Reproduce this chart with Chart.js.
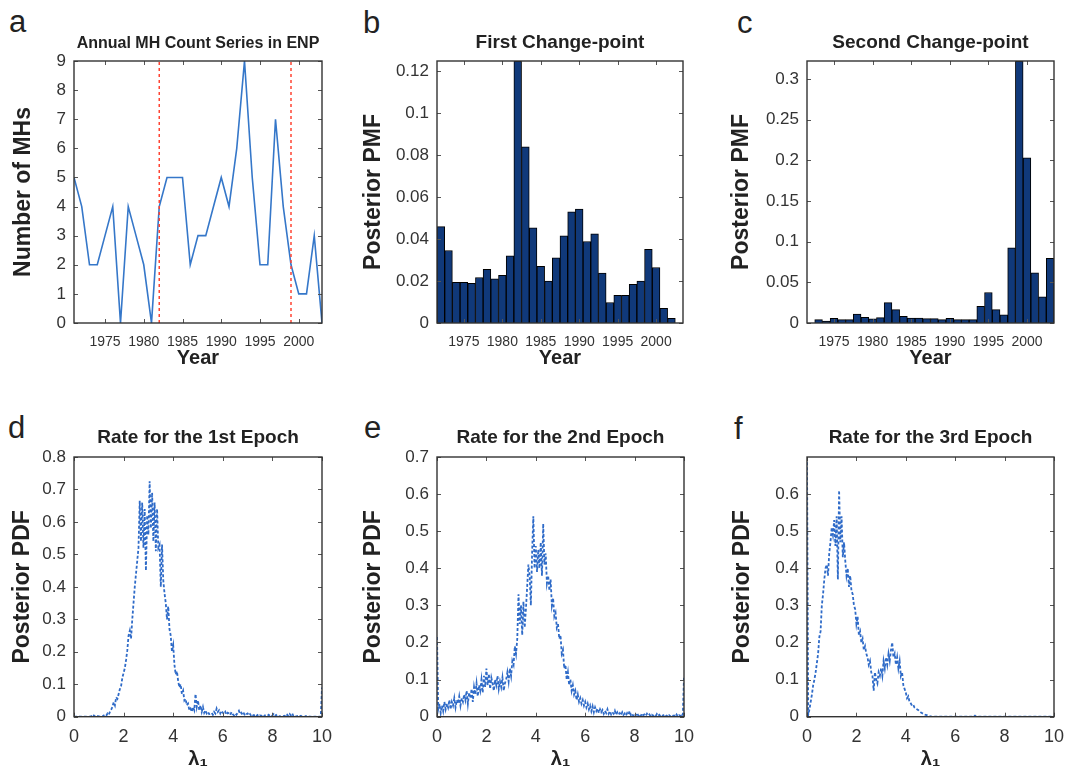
<!DOCTYPE html>
<html>
<head>
<meta charset="utf-8">
<script src="https://cdn.jsdelivr.net/npm/chart.js@4.4.1/dist/chart.umd.min.js"></script>
<style>
  body { margin: 0; width: 1065px; height: 780px; overflow: hidden; position: relative; background: #fff;
         font-family: 'Liberation Sans', Arial, sans-serif; }
  canvas { position: absolute; }
  .tag { position: absolute; font-size: 31px; line-height: 30px; color: #222; }
</style>
</head>
<body>
<div class="tag" style="left:9px;top:7px">a</div>
<div class="tag" style="left:363px;top:8px">b</div>
<div class="tag" style="left:737px;top:8px">c</div>
<div class="tag" style="left:8px;top:413px">d</div>
<div class="tag" style="left:364px;top:413px">e</div>
<div class="tag" style="left:734px;top:414px">f</div>

<canvas id="panelA" width="336" height="390" style="left:0;top:0"></canvas>
<canvas id="panelB" width="357" height="390" style="left:340px;top:0"></canvas>
<canvas id="panelC" width="365" height="390" style="left:700px;top:0"></canvas>
<canvas id="panelD" width="344" height="384" style="left:0;top:396px"></canvas>
<canvas id="panelE" width="366" height="384" style="left:340px;top:396px"></canvas>
<canvas id="panelF" width="376" height="384" style="left:700px;top:396px"></canvas>

<script>
// annual MH counts (panel a)
const years = [1971, 1972, 1973, 1974, 1975, 1976, 1977, 1978, 1979, 1980, 1981, 1982, 1983, 1984, 1985, 1986, 1987,
               1988, 1989, 1990, 1991, 1992, 1993, 1994, 1995, 1996, 1997, 1998, 1999, 2000, 2001, 2002, 2003];
const mhCounts = [5, 4, 2, 2, 3, 4, 0, 4, 3, 2, 0, 4, 5, 5, 5, 2, 3, 3, 4, 5, 4, 6, 9, 5, 2, 2, 7, 4, 2, 1, 1, 3, 0];
const changePoints = [1982, 1999];

// posterior PMF of the first change-point (panel b)
const firstCpYears = [1972, 1973, 1974, 1975, 1976, 1977, 1978, 1979, 1980, 1981, 1982, 1983, 1984, 1985, 1986, 1987,
                      1988, 1989, 1990, 1991, 1992, 1993, 1994, 1995, 1996, 1997, 1998, 1999, 2000, 2001, 2002];
const firstCpPmf = [0.046, 0.0346, 0.0194, 0.0194, 0.0189, 0.0217, 0.0256, 0.0211, 0.0227, 0.0321,
                    0.125, 0.0841, 0.0454, 0.027, 0.020, 0.0311, 0.0416, 0.053, 0.0544, 0.0389,
                    0.0425, 0.0238, 0.0098, 0.0132, 0.0132, 0.0184, 0.020, 0.0352, 0.0265, 0.007, 0.0022];

// posterior PMF of the second change-point (panel c)
const secondCpYears = [1973, 1974, 1975, 1976, 1977, 1978, 1979, 1980, 1981, 1982, 1983, 1984, 1985, 1986, 1987, 1988,
                       1989, 1990, 1991, 1992, 1993, 1994, 1995, 1996, 1997, 1998, 1999, 2000, 2001, 2002, 2003];
const secondCpPmf = [0.0041, 0.0025, 0.0058, 0.0041, 0.0041, 0.011, 0.007, 0.005, 0.0066, 0.025,
                     0.0165, 0.0082, 0.0062, 0.0062, 0.0054, 0.0054, 0.0041, 0.0058, 0.0041, 0.0041,
                     0.0041, 0.0206, 0.0375, 0.0165, 0.0099, 0.0923, 0.322, 0.203, 0.0618, 0.0321, 0.0795];

// tick labels
const yearTicks = [1975, 1980, 1985, 1990, 1995, 2000];
const countTicks = [0, 1, 2, 3, 4, 5, 6, 7, 8, 9];
const firstPmfTicks = [0, 0.02, 0.04, 0.06, 0.08, 0.1, 0.12];
const secondPmfTicks = [0, 0.05, 0.1, 0.15, 0.2, 0.25, 0.3];
const pdfTicks1 = [0, 0.1, 0.2, 0.3, 0.4, 0.5, 0.6, 0.7, 0.8];
const pdfTicks2 = [0, 0.1, 0.2, 0.3, 0.4, 0.5, 0.6, 0.7];
const pdfTicks3 = [0, 0.1, 0.2, 0.3, 0.4, 0.5, 0.6];
const lambdaTicks = [0, 2, 4, 6, 8, 10];

// posterior PDFs of the epoch rates, sampled every 0.05 from 0 to 10 (one row per unit of lambda)
const lambdaStep = 0.05;
const pdfEpoch1 = [
  0, 0, 0, 0, 0, 0, 0, .001, 0, 0, 0, .001, 0, 0, .002, 0, .004, .001, 0, .002,
  .001, 0, .003, .001, .004, .006, .003, .010, .006, .015, .022, .030, .045, .035, .060, .055, .070, .085, .095, .120,
  .135, .150, .175, .205, .250, .265, .240, .300, .350, .400, .440, .480, .520, .665, .540, .660, .520, .640, .450, .620,
  .560, .725, .580, .690, .540, .660, .510, .640, .520, .530, .400, .530, .420, .380, .350, .300, .340, .270, .250, .200,
  .220, .160, .130, .140, .110, .090, .100, .070, .080, .050, .055, .035, .040, .020, .025, .015, .030, .020, .070, .030,
  .050, .020, .035, .015, .030, .012, .020, .010, .015, .008, .010, .012, .006, .015, .010, .025, .015, .020, .010, .018,
  .012, .008, .015, .006, .012, .010, .005, .014, .008, .004, .010, .006, .012, .018, .008, .012, .005, .010, .003, .008,
  .010, .004, .008, .002, .006, .003, .007, .002, .005, .001, .004, .002, .006, .001, .004, .002, .003, .006, .002, .001,
  .004, .008, .002, .005, .001, .003, 0, .002, .004, .001, .003, 0, .006, .002, .008, .003, .010, .002, .004, 0,
  .002, 0, .001, .003, 0, .001, 0, .002, 0, .001, 0, 0, .001, 0, 0, 0, .001, 0, 0, 0,
  .090
];
const pdfEpoch2 = [
  .215, .020, .035, .010, .030, .015, .040, .020, .035, .025, .045, .020, .040, .030, .050, .025, .045, .035, .055, .030,
  .050, .040, .060, .045, .070, .035, .065, .050, .075, .040, .080, .060, .090, .055, .085, .070, .100, .065, .110, .080,
  .130, .085, .115, .075, .105, .090, .070, .100, .085, .110, .075, .095, .080, .105, .070, .090, .100, .120, .095, .130,
  .110, .150, .140, .190, .170, .210, .330, .250, .300, .220, .310, .240, .290, .350, .410, .380, .300, .440, .540, .400,
  .460, .390, .450, .400, .470, .380, .520, .410, .440, .360, .380, .340, .370, .300, .320, .270, .280, .240, .250, .210,
  .220, .170, .180, .130, .140, .100, .120, .085, .100, .070, .085, .060, .070, .045, .060, .040, .050, .035, .045, .030,
  .040, .025, .035, .020, .030, .015, .028, .012, .025, .015, .022, .010, .020, .012, .018, .008, .016, .010, .020, .008,
  .015, .006, .012, .008, .016, .005, .012, .006, .010, .004, .012, .005, .009, .003, .010, .006, .015, .004, .008, .002,
  .008, .004, .010, .003, .007, .002, .009, .004, .006, .002, .008, .003, .006, .001, .005, .002, .004, .001, .007, .002,
  .005, .001, .004, .002, .006, .001, .003, 0, .004, .001, .005, .002, .003, 0, .006, .001, .004, .002, .003, .001,
  .107
];
const pdfEpoch3 = [
  .699, .005, .020, .040, .060, .085, .100, .120, .145, .170, .215, .230, .300, .330, .370, .400, .410, .380, .440, .470,
  .510, .490, .530, .460, .540, .370, .610, .470, .540, .430, .470, .420, .380, .400, .350, .380, .340, .330, .300, .290,
  .250, .270, .220, .230, .200, .210, .180, .190, .170, .160, .140, .150, .120, .110, .070, .120, .100, .090, .120, .110,
  .130, .110, .150, .130, .160, .140, .170, .150, .180, .200, .160, .170, .140, .160, .130, .150, .110, .120, .085, .075,
  .065, .050, .055, .040, .036, .030, .032, .025, .022, .020, .018, .015, .012, .010, .008, .006, .005, .004, .003, .002,
  .001, 0, .001, 0, 0, 0, 0, 0, 0, 0, 0, 0, 0, 0, 0, 0, 0, 0, 0, 0,
  0, 0, 0, 0, 0, 0, 0, 0, 0, 0, 0, 0, 0, 0, 0, 0, .003, 0, 0, 0,
  0, 0, 0, 0, 0, 0, 0, 0, 0, 0, 0, 0, 0, 0, 0, 0, 0, 0, 0, 0,
  0, 0, 0, 0, 0, 0, 0, 0, 0, 0, 0, 0, 0, 0, 0, 0, 0, 0, 0, 0,
  0, 0, 0, 0, 0, 0, 0, 0, 0, 0, 0, 0, 0, 0, 0, 0, 0, 0, 0, 0,
  0
];

const FONT = "'Liberation Sans', Arial, sans-serif";
Chart.defaults.font.family = FONT;
Chart.defaults.color = '#333';

const fmt = v => String(+Number(v).toFixed(4));

// matlab style box with inward tick marks
const boxPlugin = {
  id: 'matlabBox',
  afterDatasetsDraw(chart) {
    const { ctx, chartArea: a, scales: { x, y } } = chart;
    ctx.save();
    ctx.strokeStyle = '#555';
    ctx.lineWidth = 1;
    ctx.beginPath();
    x.ticks.forEach(t => {
      const px = Math.round(x.getPixelForValue(t.value)) + 0.5;
      ctx.moveTo(px, a.bottom); ctx.lineTo(px, a.bottom - 4);
      ctx.moveTo(px, a.top); ctx.lineTo(px, a.top + 4);
    });
    y.ticks.forEach(t => {
      const py = Math.round(y.getPixelForValue(t.value)) + 0.5;
      ctx.moveTo(a.left, py); ctx.lineTo(a.left + 4, py);
      ctx.moveTo(a.right, py); ctx.lineTo(a.right - 4, py);
    });
    ctx.stroke();
    ctx.strokeStyle = '#333';
    ctx.lineWidth = 1.4;
    ctx.strokeRect(a.left, a.top, a.right - a.left, a.bottom - a.top);
    ctx.restore();
  }
};

function panel(id, o) {
  return new Chart(document.getElementById(id), {
    type: o.type,
    data: { datasets: o.datasets },
    options: {
      responsive: false,
      animation: false,
      events: [],
      layout: { padding: { left: 0, top: 0, right: o.padRight, bottom: 0 } },
      plugins: {
        legend: { display: false },
        tooltip: { enabled: false },
        title: {
          display: true, text: o.title, fullSize: false, color: '#222',
          font: { size: o.titleSize, weight: 'bold' },
          padding: { top: o.titleTop, bottom: o.titleBottom }
        }
      },
      scales: {
        x: {
          type: 'linear', min: o.xMin, max: o.xMax, offset: false,
          grid: { display: false, drawTicks: false }, border: { display: false },
          afterBuildTicks: s => { s.ticks = o.xTicks.map(v => ({ value: v })); },
          afterFit: s => { s.height = o.xH; },
          ticks: { autoSkip: false, maxRotation: 0, minRotation: 0, padding: o.xTickPad, color: '#333',
                   font: o.xTickFont, callback: fmt },
          title: { display: true, text: o.xTitle, color: '#222', font: { size: 20, weight: 'bold' },
                   padding: { top: 0, bottom: o.xTitlePad } }
        },
        y: {
          type: 'linear', min: 0, max: o.yMax,
          grid: { display: false, drawTicks: false }, border: { display: false },
          afterBuildTicks: s => { s.ticks = o.yTicks.map(v => ({ value: v })); },
          afterFit: s => { s.width = o.yW; },
          ticks: { autoSkip: false, padding: 8, color: '#333', font: { size: 17 }, callback: fmt },
          title: { display: true, text: o.yTitle, color: '#222', font: { size: 23, weight: 'bold' },
                   padding: { top: o.yTitlePad, bottom: 0 } }
        }
      }
    },
    plugins: [boxPlugin]
  });
}

const yearFont = { size: 14 };
const lambdaFont = { size: 18 };
const barStyle = { backgroundColor: '#10397a', borderColor: '#000', borderWidth: 1,
                   barPercentage: 1, categoryPercentage: 1 };
const pdfStyle = { borderColor: '#2f6bc8', borderWidth: 1.8, borderDash: [3, 2], pointRadius: 0, tension: 0 };

// a
panel('panelA', {
  type: 'line', padRight: 14,
  title: 'Annual MH Count Series in ENP', titleSize: 16, titleTop: 34, titleBottom: 7.8,
  xMin: 1971, xMax: 2003, xTicks: yearTicks, xH: 67, xTickFont: yearFont, xTickPad: 11, xTitle: 'Year', xTitlePad: 20,
  yMax: 9, yTicks: countTicks, yW: 74, yTitle: 'Number of MHs', yTitlePad: 9.7,
  datasets: [
    { data: years.map((yr, i) => ({ x: yr, y: mhCounts[i] })), borderColor: '#3577c9', borderWidth: 1.6,
      pointRadius: 0, tension: 0, order: 1 },
    ...changePoints.map(cp => ({ data: [{ x: cp, y: 0 }, { x: cp, y: 9 }], borderColor: '#ff4433',
      borderWidth: 1.5, borderDash: [3, 3], pointRadius: 0, order: 0 }))
  ]
});

// b
panel('panelB', {
  type: 'bar', padRight: 14,
  title: 'First Change-point', titleSize: 19, titleTop: 31, titleBottom: 7.2,
  xMin: 1971.5, xMax: 2003.5, xTicks: yearTicks, xH: 67, xTickFont: yearFont, xTickPad: 11, xTitle: 'Year', xTitlePad: 20,
  yMax: 0.125, yTicks: firstPmfTicks, yW: 97, yTitle: 'Posterior PMF', yTitlePad: 19.7,
  datasets: [Object.assign({ data: firstCpYears.map((yr, i) => ({ x: yr, y: firstCpPmf[i] })) }, barStyle)]
});

// c
panel('panelC', {
  type: 'bar', padRight: 11,
  title: 'Second Change-point', titleSize: 19, titleTop: 31, titleBottom: 7.2,
  xMin: 1971.5, xMax: 2003.5, xTicks: yearTicks, xH: 67, xTickFont: yearFont, xTickPad: 11, xTitle: 'Year', xTitlePad: 20,
  yMax: 0.322, yTicks: secondPmfTicks, yW: 107, yTitle: 'Posterior PMF', yTitlePad: 28,
  datasets: [Object.assign({ data: secondCpYears.map((yr, i) => ({ x: yr, y: secondCpPmf[i] })) }, barStyle)]
});

const pdfPoints = vals => vals.map((v, i) => ({ x: i * lambdaStep, y: v }));

// d
panel('panelD', {
  type: 'line', padRight: 22,
  title: 'Rate for the 1st Epoch', titleSize: 19, titleTop: 30, titleBottom: 8.2,
  xMin: 0, xMax: 10, xTicks: lambdaTicks, xH: 63.3, xTickFont: lambdaFont, xTickPad: 10, xTitle: 'λ₁', xTitlePad: 9,
  yMax: 0.8, yTicks: pdfTicks1, yW: 74, yTitle: 'Posterior PDF', yTitlePad: 9.2,
  datasets: [Object.assign({ data: pdfPoints(pdfEpoch1) }, pdfStyle)]
});

// e
panel('panelE', {
  type: 'line', padRight: 22,
  title: 'Rate for the 2nd Epoch', titleSize: 19, titleTop: 30, titleBottom: 8.2,
  xMin: 0, xMax: 10, xTicks: lambdaTicks, xH: 63.3, xTickFont: lambdaFont, xTickPad: 10, xTitle: 'λ₁', xTitlePad: 9,
  yMax: 0.7, yTicks: pdfTicks2, yW: 97, yTitle: 'Posterior PDF', yTitlePad: 20.2,
  datasets: [Object.assign({ data: pdfPoints(pdfEpoch2) }, pdfStyle)]
});

// f
panel('panelF', {
  type: 'line', padRight: 22,
  title: 'Rate for the 3rd Epoch', titleSize: 19, titleTop: 30, titleBottom: 8.2,
  xMin: 0, xMax: 10, xTicks: lambdaTicks, xH: 63.3, xTickFont: lambdaFont, xTickPad: 10, xTitle: 'λ₁', xTitlePad: 9,
  yMax: 0.7, yTicks: pdfTicks3, yW: 107, yTitle: 'Posterior PDF', yTitlePad: 29,
  datasets: [Object.assign({ data: pdfPoints(pdfEpoch3) }, pdfStyle)]
});
</script>
</body>
</html>
